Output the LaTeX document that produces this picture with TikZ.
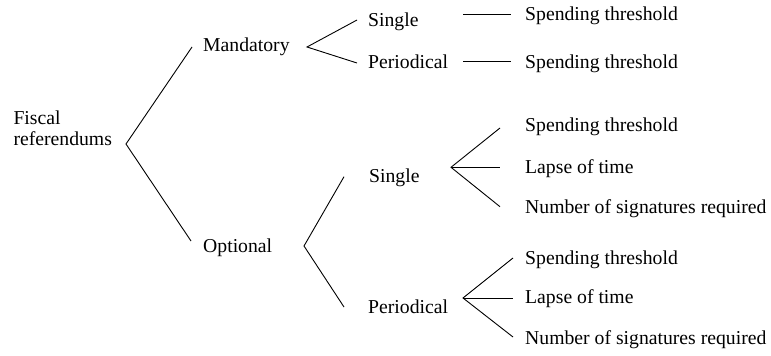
\documentclass[tikz,border=0pt]{standalone}
\usepackage{fontspec}
\setmainfont{Liberation Serif}
\begin{document}
\begin{tikzpicture}[x=1pt,y=-1pt,
  lbl/.style={anchor=base west,inner sep=0pt,font=\fontsize{19.7}{22}\selectfont},
  conn/.style={line width=0.9pt,black}]
\useasboundingbox (0,0) rectangle (771,356);
% texts
\node[lbl,align=left] (fis) at (13.3,124.3) {Fiscal};
\node[lbl] (ref) at (13.3,145) {referendums};
\node[lbl] (man) at (203,51.7) {Mandatory};
\node[lbl] (opt) at (203,252.7) {Optional};
\node[lbl] (ms) at (368,26) {Single};
\node[lbl] (mp) at (368,68.3) {Periodical};
\node[lbl] (mss) at (525,20) {Spending threshold};
\node[lbl] (mps) at (525,68) {Spending threshold};
\node[lbl] (os) at (369,182.7) {Single};
\node[lbl] (op) at (368,313.3) {Periodical};
\node[lbl] (oss) at (525,131.7) {Spending threshold};
\node[lbl] (osl) at (525,173.3) {Lapse of time};
\node[lbl] (osn) at (525,213.3) {Number of signatures required};
\node[lbl] (ops) at (525,264.3) {Spending threshold};
\node[lbl] (opl) at (525,303.3) {Lapse of time};
\node[lbl] (opn) at (525,344.3) {Number of signatures required};
% fork coordinates
\coordinate (r0) at (126,144);
\coordinate (r1) at (192,47);
\coordinate (r2) at (191,241);
\coordinate (m0) at (307,47);
\coordinate (m1) at (357,20);
\coordinate (m2) at (357,63);
\coordinate (ms0) at (463,14);
\coordinate (ms1) at (511,14);
\coordinate (mp0) at (463,61);
\coordinate (mp1) at (511,61);
\coordinate (o0) at (304,246);
\coordinate (o1) at (344,176.7);
\coordinate (o2) at (344,307);
\coordinate (s0) at (451,167.3);
\coordinate (s1) at (500,128);
\coordinate (s2) at (500,167.3);
\coordinate (s3) at (500,206.7);
\coordinate (p0) at (463,298);
\coordinate (p1) at (513,258);
\coordinate (p2) at (513,298);
\coordinate (p3) at (513,337);
% connectors
\draw[conn] (r1) -- (r0) -- (r2);
\draw[conn] (m1) -- (m0) -- (m2);
\draw[conn] (ms0) -- (ms1);
\draw[conn] (mp0) -- (mp1);
\draw[conn] (o1) -- (o0) -- (o2);
\draw[conn] (s1) -- (s0) -- (s3);
\draw[conn] (s0) -- (s2);
\draw[conn] (p1) -- (p0) -- (p3);
\draw[conn] (p0) -- (p2);
\end{tikzpicture}
\end{document}
